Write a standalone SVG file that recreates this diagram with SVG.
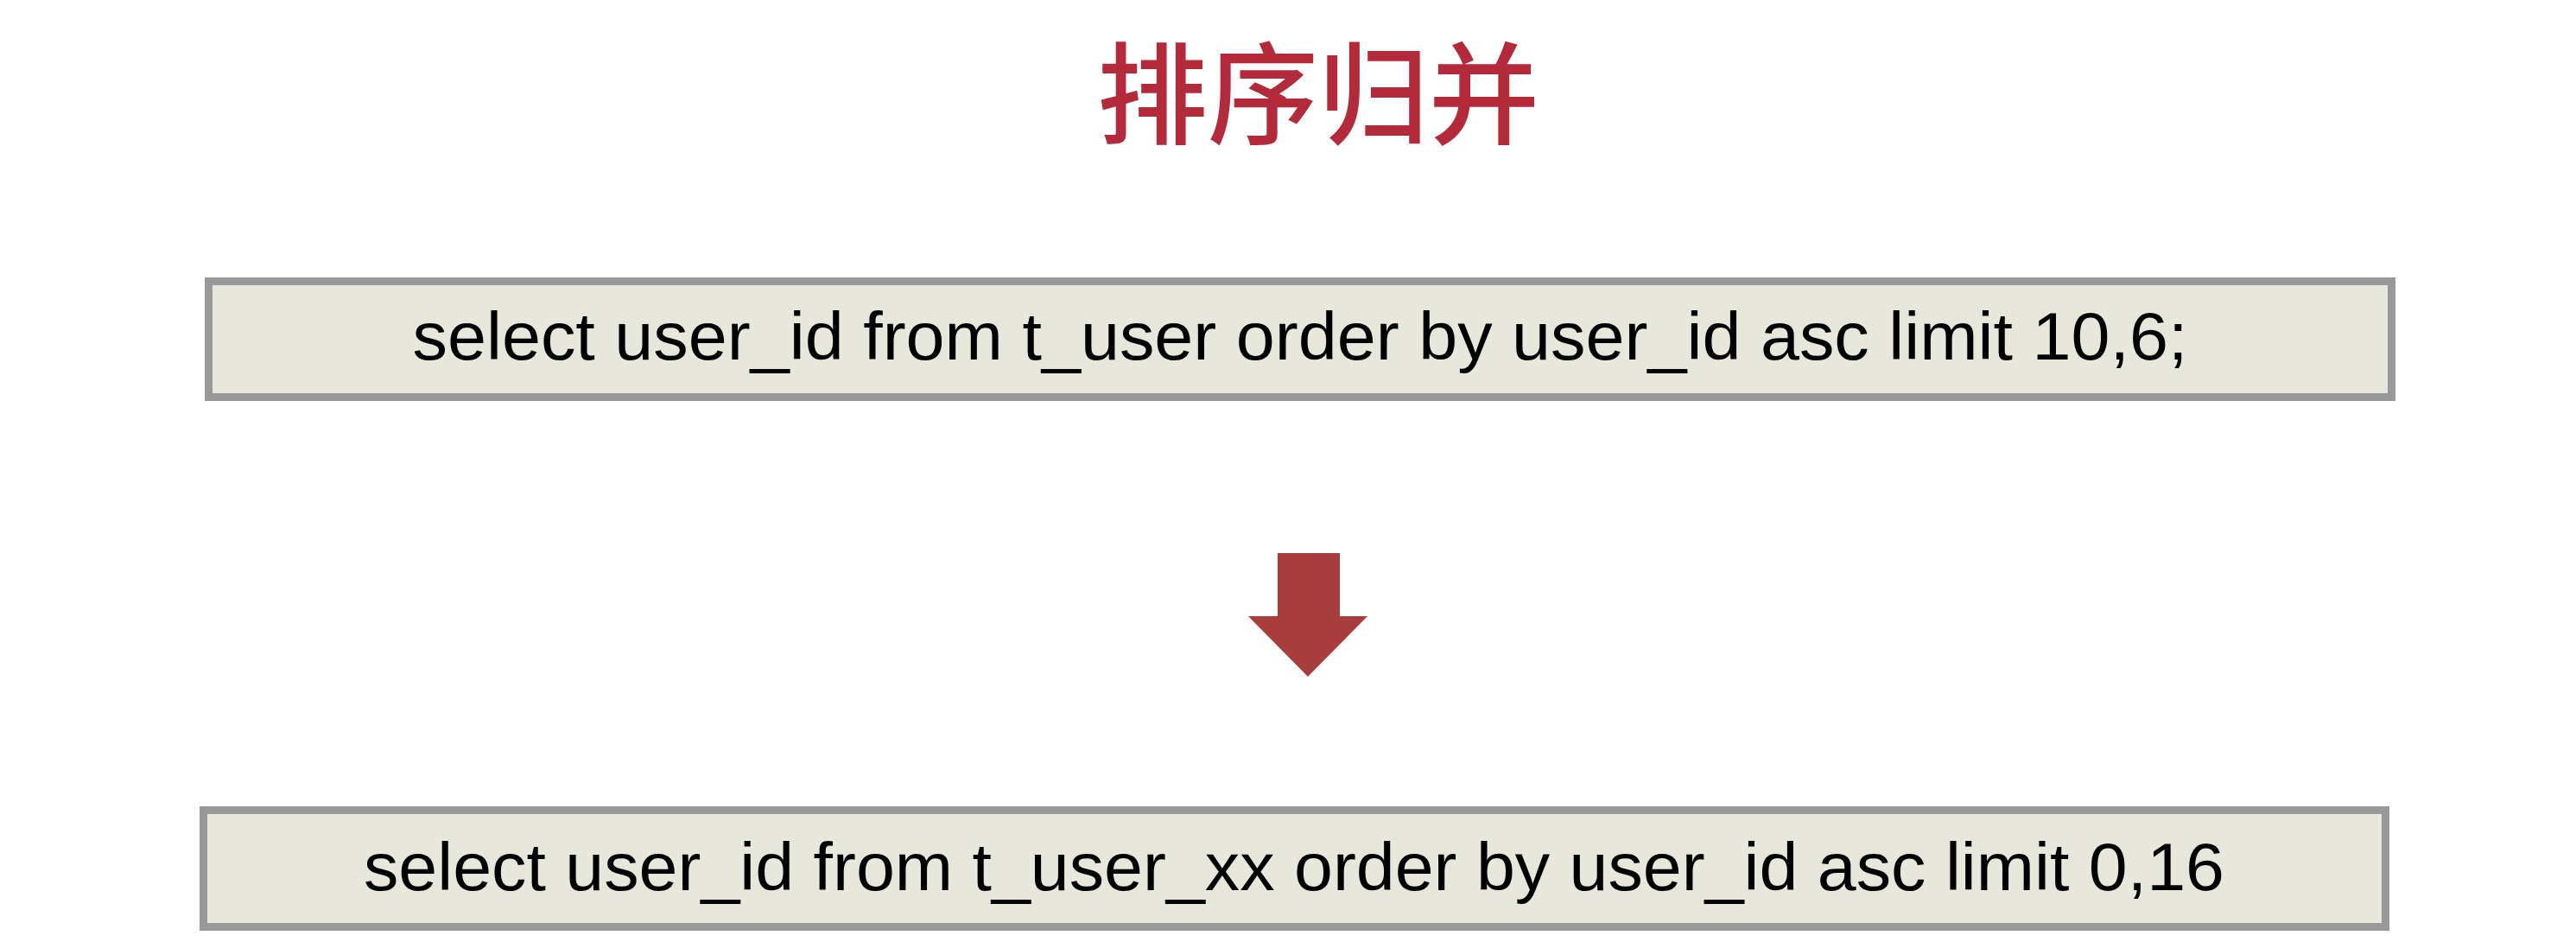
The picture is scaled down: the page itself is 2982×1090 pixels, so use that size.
<svg xmlns="http://www.w3.org/2000/svg" width="2982" height="1090" viewBox="0 0 2982 1090">
  <style>
    .box { fill: #e7e7dc; stroke: #999999; stroke-width: 9; }
    .sql { font-family: "Liberation Sans", Arial, "Noto Sans CJK SC", sans-serif; font-size: 78px; fill: #000000; }
    .title { font-family: "Noto Sans CJK SC", "Noto Sans", sans-serif; font-size: 128px; font-weight: 500; fill: #b32a3a; }
    .arrow { fill: #a83d3d; }
  </style>
  <rect x="0" y="0" width="2982" height="1090" fill="#ffffff"/>
  <g id="title">
    <text class="title" x="1526" y="157" text-anchor="middle">排序归并</text>
  </g>
  <g id="node-top">
    <rect class="box" x="241.5" y="325.5" width="2527" height="134"/>
    <text class="sql" x="1505" y="416" text-anchor="middle" textLength="2055" lengthAdjust="spacingAndGlyphs">select user_id from t_user order by user_id asc limit 10,6;</text>
  </g>
  <g id="node-bottom">
    <rect class="box" x="235.5" y="937.5" width="2526" height="135"/>
    <text class="sql" x="1498" y="1030" text-anchor="middle" textLength="2154" lengthAdjust="spacingAndGlyphs">select user_id from t_user_xx order by user_id asc limit 0,16</text>
  </g>
  <g id="connectors">
    <polygon class="arrow" points="1479,640 1551,640 1551,713 1583,713 1514,783 1445,713 1479,713"/>
  </g>
</svg>
